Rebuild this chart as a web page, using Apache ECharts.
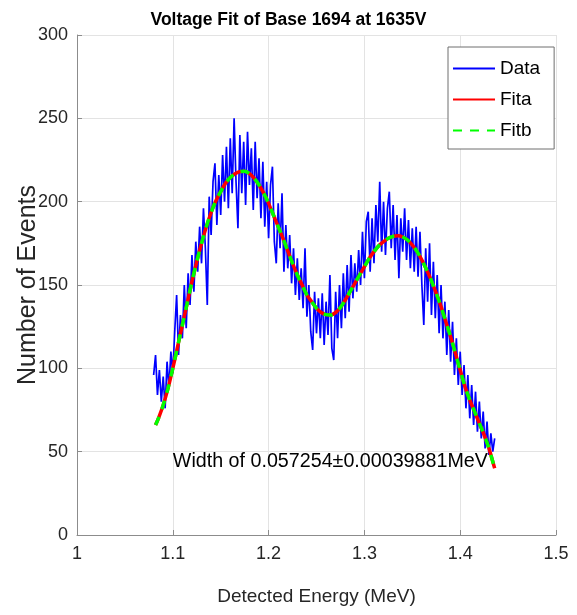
<!DOCTYPE html>
<html>
<head>
<meta charset="utf-8">
<title>Voltage Fit of Base 1694 at 1635V</title>
<script src="https://cdn.jsdelivr.net/npm/echarts@6/dist/echarts.min.js"></script>
<style>
  html, body { margin: 0; padding: 0; background: #ffffff; }
  #chart { width: 577px; height: 615px; }
</style>
</head>
<body>
<div id="chart"></div>
<script>
// Energy spectrum (histogram bin centres, MeV) and counts per bin
const dataEnergy = [
  1.080, 1.082, 1.084, 1.086, 1.088, 1.090, 1.092, 1.094, 1.096, 1.098,
  1.100, 1.102, 1.104, 1.106, 1.108, 1.110, 1.112, 1.114, 1.116, 1.118,
  1.120, 1.122, 1.124, 1.126, 1.128, 1.130, 1.132, 1.134, 1.136, 1.138,
  1.140, 1.142, 1.144, 1.146, 1.148, 1.150, 1.152, 1.154, 1.156, 1.158,
  1.160, 1.162, 1.164, 1.166, 1.168, 1.170, 1.172, 1.174, 1.176, 1.178,
  1.180, 1.182, 1.184, 1.186, 1.188, 1.190, 1.192, 1.194, 1.196, 1.198,
  1.200, 1.202, 1.204, 1.206, 1.208, 1.210, 1.212, 1.214, 1.216, 1.218,
  1.220, 1.222, 1.224, 1.226, 1.228, 1.230, 1.232, 1.234, 1.236, 1.238,
  1.240, 1.242, 1.244, 1.246, 1.248, 1.250, 1.252, 1.254, 1.256, 1.258,
  1.260, 1.262, 1.264, 1.266, 1.268, 1.270, 1.272, 1.274, 1.276, 1.278,
  1.280, 1.282, 1.284, 1.286, 1.288, 1.290, 1.292, 1.294, 1.296, 1.298,
  1.300, 1.302, 1.304, 1.306, 1.308, 1.310, 1.312, 1.314, 1.316, 1.318,
  1.320, 1.322, 1.324, 1.326, 1.328, 1.330, 1.332, 1.334, 1.336, 1.338,
  1.340, 1.342, 1.344, 1.346, 1.348, 1.350, 1.352, 1.354, 1.356, 1.358,
  1.360, 1.362, 1.364, 1.366, 1.368, 1.370, 1.372, 1.374, 1.376, 1.378,
  1.380, 1.382, 1.384, 1.386, 1.388, 1.390, 1.392, 1.394, 1.396, 1.398,
  1.400, 1.402, 1.404, 1.406, 1.408, 1.410, 1.412, 1.414, 1.416, 1.418,
  1.420, 1.422, 1.424, 1.426, 1.428, 1.430, 1.432, 1.434, 1.436
];
const dataCounts = [
   96, 108,  84,  99,  80,  95,  76, 104,  88, 110,
   97, 122, 144, 108, 132, 118, 150, 124, 157, 138,
  168, 146, 176, 158, 185, 163, 196, 172, 138, 203,
  180, 212, 223, 186, 216, 192, 228, 200, 233, 196,
  238, 205, 250, 212, 184, 240, 205, 236, 198, 242,
  210, 232, 195, 236, 202, 226, 190, 224, 185, 212,
  178, 210, 221, 176, 163, 199, 172, 205, 158, 186,
  160, 180, 151, 172, 144, 166, 141, 160, 136, 172,
  131, 150, 122, 111, 146, 121, 142, 118, 145, 114,
  140, 120, 156, 112, 105, 146, 118, 150, 124, 157,
  130, 162, 134, 168, 142, 163, 146, 171, 150, 182,
  154, 188, 194, 158, 190, 163, 198, 176, 212, 170,
  200, 168, 196, 206, 172, 198, 165, 192, 154, 190,
  170, 196, 165, 189, 160, 184, 158, 185, 155, 182,
  150, 126, 172, 140, 175, 132, 164, 130, 156, 121,
  150, 118, 140, 108, 135, 104, 128,  96, 118,  90,
  110,  84, 102,  76,  96,  70,  90,  66,  86,  62,
   80,  58,  74,  52,  68,  48,  61,  50,  58
];

// Fitted peak model evaluated along the spectrum (two fits, identical curves)
const fitEnergy = [
  1.082, 1.085, 1.090, 1.095, 1.100, 1.105, 1.110, 1.115, 1.120, 1.125,
  1.130, 1.135, 1.140, 1.145, 1.150, 1.155, 1.160, 1.165, 1.170, 1.175,
  1.180, 1.185, 1.190, 1.195, 1.200, 1.205, 1.210, 1.215, 1.220, 1.225,
  1.230, 1.235, 1.240, 1.245, 1.250, 1.255, 1.260, 1.265, 1.270, 1.275,
  1.280, 1.285, 1.290, 1.295, 1.300, 1.305, 1.310, 1.315, 1.320, 1.325,
  1.330, 1.335, 1.340, 1.345, 1.350, 1.355, 1.360, 1.365, 1.370, 1.375,
  1.380, 1.385, 1.390, 1.395, 1.400, 1.405, 1.410, 1.415, 1.420, 1.425,
  1.430, 1.435, 1.436
];
const fitCounts = [
   66,  70,  78,  88, 100, 113, 126, 139, 152, 164,
  175, 185, 193.5, 200.5, 206, 211, 214.5, 216.7, 218, 218.2,
  216.8, 214, 210, 205, 199, 192, 185, 178, 170.5, 163,
  156, 150, 144, 140, 136, 133.5, 132.2, 132, 133.5, 136.5,
  141, 146, 151, 156, 161, 166, 170, 173.5, 176, 178,
  179.2, 179.5, 178.8, 177, 174, 170, 165, 159, 152.5, 145,
  137, 128, 119, 109, 99, 89, 81, 74, 67, 60,
   52,  42,  40
];

// Axis ticks
const energyTicks = [1, 1.1, 1.2, 1.3, 1.4, 1.5];
const countTicks = [0, 50, 100, 150, 200, 250, 300];

const seriesNames = ['Data', 'Fita', 'Fitb'];
const titleText = 'Voltage Fit of Base 1694 at 1635V';
const widthNote = 'Width of 0.057254\u00B10.00039881MeV';
const notePosition = [1.1, 44];

const sans = '"Liberation Sans", Arial, Helvetica, sans-serif';
const textColor = '#262626';

const pairs = (xs, ys) => xs.map((x, i) => [x, ys[i]]);

const chart = echarts.init(document.getElementById('chart'), null, { renderer: 'canvas' });

const option = {
  animation: false,
  backgroundColor: '#ffffff',
  title: {
    text: titleText,
    left: 'center',
    top: 6,
    textStyle: { fontFamily: sans, fontWeight: 'bold', fontSize: 17.5, color: '#000000' }
  },
  grid: {
    left: 77, right: 21, top: 35, bottom: 80,
    outerBoundsMode: 'none'
  },
  legend: {
    orient: 'vertical',
    left: 448,
    top: 47,
    padding: [12, 14, 9, 4],
    itemGap: 12,
    itemWidth: 42,
    itemHeight: 20,
    backgroundColor: '#ffffff',
    borderColor: '#6e6e6e',
    borderWidth: 1,
    borderRadius: 0,
    data: seriesNames,
    itemStyle: { color: 'rgba(0,0,0,0)', borderWidth: 0, opacity: 0 },
    textStyle: { fontFamily: sans, fontSize: 19, color: '#000000' }
  },
  xAxis: {
    type: 'value',
    min: energyTicks[0],
    max: energyTicks[energyTicks.length - 1],
    interval: 0.1,
    name: 'Detected Energy (MeV)',
    nameLocation: 'middle',
    nameGap: 52,
    nameMoveOverlap: false,
    nameTextStyle: { fontFamily: sans, fontSize: 19, color: textColor },
    axisLine: { lineStyle: { color: '#8c8c8c', width: 1 } },
    axisTick: { inside: true, length: 5, lineStyle: { color: '#8c8c8c' } },
    axisLabel: {
      margin: 10,
      fontFamily: sans, fontSize: 18, color: textColor,
      formatter: v => String(Number(v.toFixed(1)))
    },
    splitLine: { show: true, lineStyle: { color: '#e3e3e3', width: 1 } }
  },
  yAxis: {
    type: 'value',
    min: countTicks[0],
    max: countTicks[countTicks.length - 1],
    interval: 50,
    name: 'Number of Events',
    nameLocation: 'middle',
    nameGap: 36,
    nameMoveOverlap: false,
    nameTextStyle: { fontFamily: sans, fontSize: 25, color: textColor },
    axisLine: { show: true, lineStyle: { color: '#8c8c8c', width: 1 } },
    axisTick: { show: true, inside: true, length: 5, lineStyle: { color: '#8c8c8c' } },
    axisLabel: { margin: 9, fontFamily: sans, fontSize: 18, color: textColor },
    splitLine: { show: true, lineStyle: { color: '#e3e3e3', width: 1 } }
  },
  series: [
    {
      name: seriesNames[0],
      type: 'line',
      data: pairs(dataEnergy, dataCounts),
      symbol: 'none',
      lineStyle: { color: '#0000ff', width: 1.7 },
      itemStyle: { color: '#0000ff' },
      z: 2
    },
    {
      name: seriesNames[1],
      type: 'line',
      data: pairs(fitEnergy, fitCounts),
      smooth: 0.3,
      symbol: 'none',
      lineStyle: { color: '#ff0000', width: 3.5 },
      itemStyle: { color: '#ff0000' },
      z: 3
    },
    {
      name: seriesNames[2],
      type: 'line',
      data: pairs(fitEnergy, fitCounts),
      smooth: 0.3,
      symbol: 'none',
      lineStyle: { color: '#00ff00', width: 3.5, type: [9, 8] },
      itemStyle: { color: '#00ff00' },
      z: 4
    }
  ]
};

chart.setOption(option);

// Width annotation anchored in data coordinates
const notePx = chart.convertToPixel({ gridIndex: 0 }, notePosition);
chart.setOption({
  graphic: [{
    type: 'text',
    x: notePx[0],
    y: notePx[1],
    z: 10,
    style: {
      text: widthNote,
      fill: '#000000',
      font: '19.7px ' + sans,
      textAlign: 'left',
      textVerticalAlign: 'middle'
    }
  }]
});
</script>
</body>
</html>
